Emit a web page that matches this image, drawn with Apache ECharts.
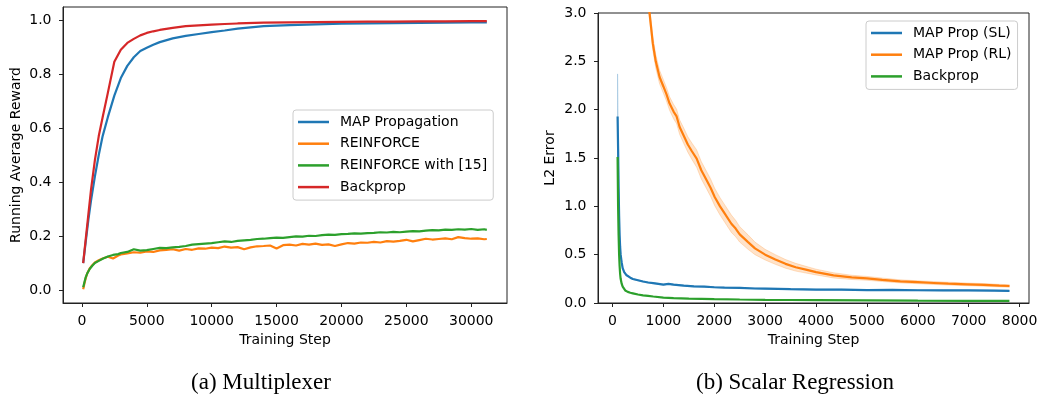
<!DOCTYPE html>
<html>
<head>
<meta charset="utf-8">
<script src="https://cdn.jsdelivr.net/npm/echarts@6/dist/echarts.min.js"></script>
<style>
html, body { margin: 0; padding: 0; background: #fff; }
#chart { width: 1045px; height: 402px; }
</style>
</head>
<body>
<div id="chart"></div>
<script>
// (a) Multiplexer
const smoothSteps = [100, 300, 500, 700, 1000, 1300, 1600, 2000, 2500, 3000, 3500, 4000, 4500, 5000, 5500, 6000, 7000, 8000, 9000, 10000, 11000, 12000, 14000, 16000, 18000, 20000, 22000, 24000, 26000, 28000, 30000, 31200];
const mapPropReward = [0.10, 0.18, 0.26, 0.33, 0.42, 0.50, 0.57, 0.64, 0.72, 0.785, 0.83, 0.862, 0.885, 0.897, 0.908, 0.918, 0.932, 0.941, 0.948, 0.955, 0.961, 0.968, 0.977, 0.981, 0.984, 0.986, 0.987, 0.988, 0.989, 0.99, 0.991, 0.991];
const backpropReward = [0.10, 0.19, 0.28, 0.37, 0.48, 0.57, 0.64, 0.73, 0.845, 0.89, 0.915, 0.93, 0.943, 0.952, 0.958, 0.963, 0.971, 0.977, 0.98, 0.983, 0.985, 0.987, 0.99, 0.991, 0.992, 0.993, 0.994, 0.994, 0.995, 0.995, 0.996, 0.996];

const noisySteps = [100, 200, 300, 400, 600, 800, 1000, 1300, 1600, 2000, 2400, 2800,
  3000, 3500, 4000, 4500, 5000, 5500, 6000, 6500, 7000, 7500,
  8000, 8500, 9000, 9500, 10000, 10500, 11000, 11500, 12000, 12500,
  13000, 13500, 14000, 14500, 15000, 15500, 16000, 16500, 17000, 17500,
  18000, 18500, 19000, 19500, 20000, 20500, 21000, 21500, 22000, 22500,
  23000, 23500, 24000, 24500, 25000, 25500, 26000, 26500, 27000, 27500,
  28000, 28500, 29000, 29500, 30000, 30500, 31000, 31200];
const reinforceReward = [0.003, 0.025, 0.045, 0.06, 0.08, 0.092, 0.102, 0.11, 0.117, 0.123, 0.117, 0.128,
  0.132, 0.136, 0.140, 0.138, 0.143, 0.141, 0.147, 0.149, 0.151, 0.146,
  0.152, 0.149, 0.154, 0.153, 0.157, 0.155, 0.161, 0.157, 0.159, 0.151,
  0.158, 0.162, 0.163, 0.165, 0.154, 0.166, 0.168, 0.165, 0.171, 0.168,
  0.172, 0.167, 0.169, 0.163, 0.169, 0.174, 0.172, 0.176, 0.175, 0.178,
  0.176, 0.181, 0.179, 0.182, 0.186, 0.180, 0.185, 0.190, 0.187, 0.189,
  0.191, 0.188, 0.196, 0.192, 0.190, 0.191, 0.188, 0.189];
const reinforce15Reward = [0.01, 0.03, 0.048, 0.06, 0.078, 0.09, 0.10, 0.108, 0.116, 0.124, 0.13, 0.133,
  0.137, 0.141, 0.151, 0.146, 0.148, 0.152, 0.156, 0.155, 0.158, 0.160,
  0.163, 0.168, 0.170, 0.172, 0.174, 0.177, 0.180, 0.178, 0.182, 0.184,
  0.186, 0.189, 0.190, 0.192, 0.194, 0.193, 0.196, 0.199, 0.198, 0.201,
  0.200, 0.203, 0.205, 0.204, 0.207, 0.208, 0.210, 0.209, 0.211, 0.212,
  0.214, 0.213, 0.215, 0.214, 0.216, 0.218, 0.217, 0.220, 0.222, 0.221,
  0.224, 0.223, 0.225, 0.224, 0.226, 0.223, 0.225, 0.223];

// (b) Scalar Regression
const slSteps = [100, 110, 120, 130, 140, 150, 160, 180, 200, 230, 270, 300, 350, 400, 500, 600, 700, 800, 900, 1000, 1100, 1200, 1400, 1600, 1800, 2000, 2200, 2500, 2800, 3000, 3500, 4000, 4500, 5000, 5500, 6000, 6500, 7000, 7500, 7800];
const slError = [1.93, 1.6, 1.2, 0.9, 0.7, 0.58, 0.5, 0.42, 0.36, 0.32, 0.29, 0.28, 0.262, 0.248, 0.235, 0.222, 0.212, 0.205, 0.198, 0.19, 0.197, 0.19, 0.18, 0.172, 0.17, 0.163, 0.16, 0.157, 0.15, 0.148, 0.143, 0.139, 0.138, 0.134, 0.135, 0.132, 0.131, 0.13, 0.128, 0.125];
const slSpread = [0.44, 0.3, 0.12, 0.05, 0.02, 0.01, 0.01, 0.006, 0.005, 0.005, 0.005, 0.005, 0.005, 0.005, 0.005, 0.005, 0.005, 0.005, 0.005, 0.005, 0.005, 0.005, 0.005, 0.005, 0.005, 0.005, 0.005, 0.005, 0.005, 0.005, 0.005, 0.005, 0.005, 0.005, 0.005, 0.005, 0.005, 0.005, 0.005, 0.005];

const rlSteps = [650, 728, 793, 850, 925, 1000, 1060, 1122, 1200, 1260, 1319, 1400, 1480, 1560, 1654, 1745, 1850, 1930, 2008, 2113, 2200, 2336, 2420, 2500, 2664, 2800, 3000, 3200, 3400, 3600, 3800, 4000, 4344, 4700, 5000, 5300, 5657, 6000, 6313, 6600, 6970, 7300, 7600, 7800];
const rlError = [3.38, 3.0, 2.683, 2.5, 2.338, 2.24, 2.16, 2.063, 1.98, 1.93, 1.82, 1.73, 1.64, 1.57, 1.494, 1.373, 1.27, 1.19, 1.097, 1.0, 0.93, 0.82, 0.77, 0.71, 0.63, 0.565, 0.5, 0.45, 0.405, 0.37, 0.345, 0.32, 0.286, 0.265, 0.255, 0.24, 0.224, 0.215, 0.207, 0.2, 0.193, 0.187, 0.18, 0.176];
const rlSpread = [0.07, 0.07, 0.07, 0.07, 0.07, 0.07, 0.07, 0.07, 0.075, 0.075, 0.075, 0.08, 0.08, 0.085, 0.09, 0.09, 0.09, 0.09, 0.09, 0.09, 0.09, 0.09, 0.085, 0.08, 0.075, 0.065, 0.055, 0.05, 0.045, 0.04, 0.035, 0.03, 0.027, 0.022, 0.02, 0.018, 0.016, 0.015, 0.015, 0.015, 0.014, 0.014, 0.013, 0.013];

const bpSteps = [100, 110, 120, 130, 140, 150, 160, 180, 200, 220, 250, 300, 350, 400, 500, 600, 700, 800, 1000, 1200, 1500, 2000, 2500, 3000, 3500, 4000, 5000, 6000, 7000, 7800];
const bpError = [1.51, 1.0, 0.7, 0.5, 0.38, 0.3, 0.25, 0.2, 0.17, 0.15, 0.13, 0.115, 0.106, 0.1, 0.088, 0.079, 0.073, 0.067, 0.056, 0.05, 0.045, 0.04, 0.036, 0.033, 0.031, 0.03, 0.028, 0.025, 0.023, 0.021];

const xTicksA = [0, 5000, 10000, 15000, 20000, 25000, 30000];
const yTicksA = [0, 0.2, 0.4, 0.6, 0.8, 1.0];
const xTicksB = [0, 1000, 2000, 3000, 4000, 5000, 6000, 7000, 8000];
const yTicksB = [0, 0.5, 1.0, 1.5, 2.0, 2.5, 3.0];

const BLUE = '#1f77b4', ORANGE = '#ff7f0e', GREEN = '#2ca02c', RED = '#d62728';
const FONT = 'DejaVu Sans';

function pts(xs, ys) {
  return xs.map((x, i) => [x, ys[i]]);
}

function line(name, xs, ys, color, idx) {
  return {
    name: name, type: 'line', xAxisIndex: idx, yAxisIndex: idx,
    data: pts(xs, ys), symbol: 'none', smooth: false,
    lineStyle: { color: color, width: 2.2 }, itemStyle: { color: color },
    z: 3
  };
}

// shaded spread band: one polygon through upper edge then lower edge, placed with api.coord
function band(xs, ys, spread, color, idx) {
  return {
    type: 'custom', xAxisIndex: idx, yAxisIndex: idx, silent: true, clip: true, z: 1,
    data: xs.map((x, i) => [x, ys[i] - spread[i], ys[i] + spread[i]]),
    encode: { x: 0, y: [1, 2] },
    renderItem: function (params, api) {
      if (params.dataIndex !== 0) return null;
      const upper = xs.map((x, i) => api.coord([x, ys[i] + spread[i]]));
      const lower = xs.map((x, i) => api.coord([x, ys[i] - spread[i]])).reverse();
      return {
        type: 'polygon',
        shape: { points: upper.concat(lower) },
        style: { fill: color, stroke: color, lineWidth: 1 }
      };
    }
  };
}

function xAxis(idx, min, max, ticks) {
  return {
    type: 'value', gridIndex: idx, min: min, max: max,
    name: 'Training Step', nameLocation: 'middle', nameGap: 30,
    nameTextStyle: { fontFamily: FONT, fontSize: 14, color: '#000' },
    axisLine: { onZero: false, lineStyle: { color: '#222', width: 1 } },
    axisTick: { customValues: ticks, length: 4, lineStyle: { color: '#222' } },
    axisLabel: { customValues: ticks, margin: 11, fontFamily: FONT, fontSize: 14, color: '#000',
      formatter: v => String(Math.round(v)) },
    splitLine: { show: false }
  };
}

function yAxis(idx, min, max, ticks, name, gap) {
  return {
    type: 'value', gridIndex: idx, min: min, max: max,
    name: name, nameLocation: 'middle', nameGap: gap,
    nameTextStyle: { fontFamily: FONT, fontSize: 14, color: '#000' },
    axisLine: { onZero: false, lineStyle: { color: '#222', width: 1 } },
    axisTick: { customValues: ticks, length: 4, lineStyle: { color: '#222' } },
    axisLabel: { customValues: ticks, margin: 11.5, fontFamily: FONT, fontSize: 14, color: '#000',
      formatter: v => v.toFixed(1) },
    splitLine: { show: false }
  };
}

function legend(left, top, names) {
  return {
    left: left, top: top, orient: 'vertical',
    data: names, icon: 'rect', itemWidth: 31, itemHeight: 2.5, itemGap: 7.7,
    padding: [5, 6, 6, 5],
    backgroundColor: 'rgba(255,255,255,0.8)', borderColor: '#cccccc', borderWidth: 1, borderRadius: 3,
    textStyle: { fontFamily: FONT, fontSize: 14, color: '#000', padding: [0, 0, 0, 6] },
    selectedMode: false
  };
}

const chart = echarts.init(document.getElementById('chart'), null, { renderer: 'canvas' });
chart.setOption({
  animation: false,
  backgroundColor: '#fff',
  grid: [
    { left: 63, top: 7, width: 444, height: 296, show: true, borderColor: '#222', borderWidth: 1, backgroundColor: 'transparent' },
    { left: 598, top: 13, width: 431, height: 290, show: true, borderColor: '#222', borderWidth: 1, backgroundColor: 'transparent' }
  ],
  xAxis: [
    xAxis(0, -1455, 32755, xTicksA),
    xAxis(1, -285, 8185, xTicksB)
  ],
  yAxis: [
    yAxis(0, -0.048, 1.048, yTicksA, 'Running Average Reward', 40),
    yAxis(1, 0, 3, yTicksB, 'L2 Error', 41)
  ],
  legend: [
    legend(293, 110, ['MAP Propagation', 'REINFORCE', 'REINFORCE with [15]', 'Backprop']),
    legend(866, 21, ['MAP Prop (SL)', 'MAP Prop (RL)', 'Backprop '])
  ],
  graphic: [
    { type: 'text', x: 261, y: 383,
      style: { text: '(a) Multiplexer', fontFamily: 'Liberation Serif', fontSize: 23, fill: '#000', align: 'center', verticalAlign: 'middle' } },
    { type: 'text', x: 795, y: 383,
      style: { text: '(b) Scalar Regression', fontFamily: 'Liberation Serif', fontSize: 23, fill: '#000', align: 'center', verticalAlign: 'middle' } }
  ],
  series: [
    line('MAP Propagation', smoothSteps, mapPropReward, BLUE, 0),
    line('REINFORCE', noisySteps, reinforceReward, ORANGE, 0),
    line('REINFORCE with [15]', noisySteps, reinforce15Reward, GREEN, 0),
    line('Backprop', smoothSteps, backpropReward, RED, 0),
    band(slSteps, slError, slSpread, 'rgba(31,119,180,0.22)', 1),
    band(rlSteps, rlError, rlSpread, 'rgba(255,127,14,0.22)', 1),
    line('MAP Prop (SL)', slSteps, slError, BLUE, 1),
    line('MAP Prop (RL)', rlSteps, rlError, ORANGE, 1),
    line('Backprop ', bpSteps, bpError, GREEN, 1)
  ]
});
</script>
</body>
</html>
